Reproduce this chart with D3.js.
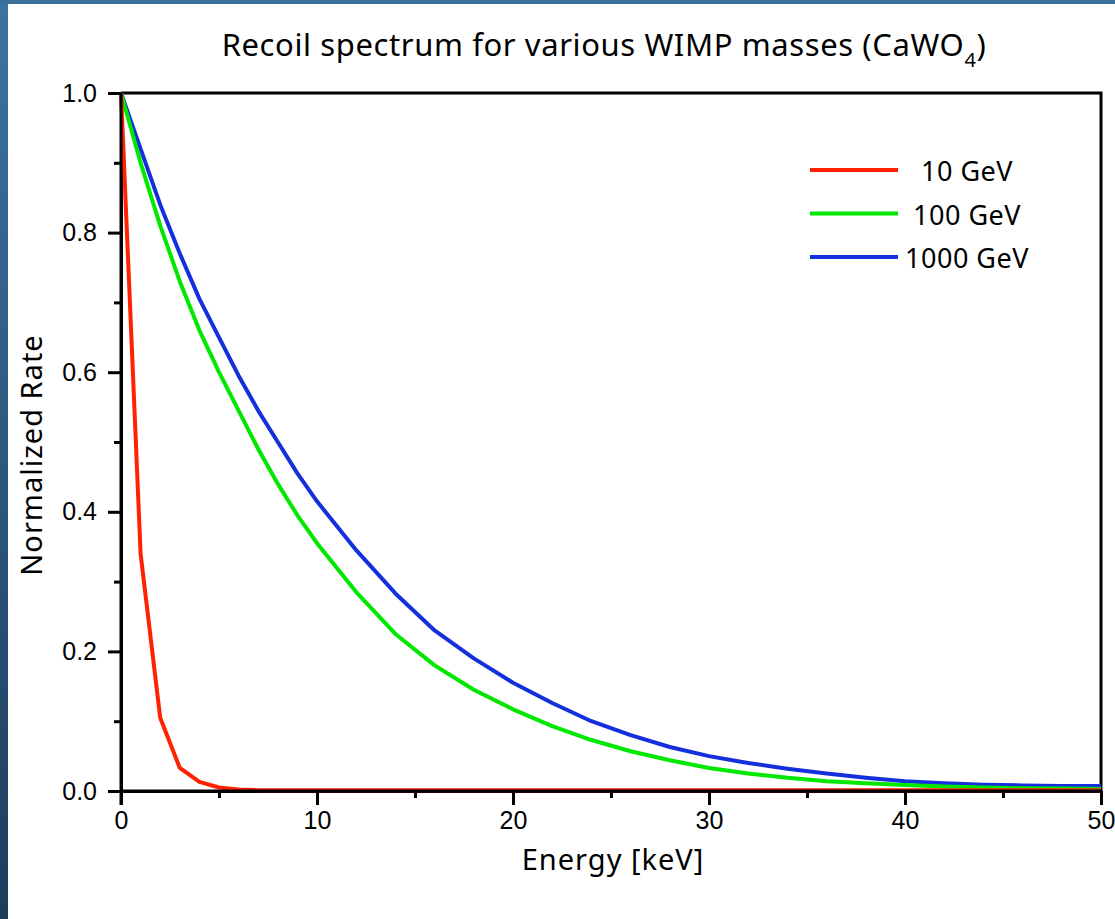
<!DOCTYPE html>
<html>
<head>
<meta charset="utf-8">
<script src="https://cdn.jsdelivr.net/npm/d3@7"></script>
<style>
  body { margin: 0; background: #fff; }
  svg { display: block; }
  .hand { font-family: "Comic Sans MS", "Noto Sans", sans-serif; fill: #000; }
</style>
</head>
<body>
<svg id="chart" width="1115" height="919"></svg>
<script>
// energy grid [keV] and normalized rates
var energy_low = [0, 1, 2, 3, 4, 5, 6, 7, 8, 10, 15, 20, 25, 30, 35, 40, 45, 50];
var rate_10 = [1.0, 0.34, 0.105, 0.033, 0.013, 0.005, 0.002, 0.0012, 0.001, 0.001, 0.001, 0.001, 0.001, 0.001, 0.001, 0.001, 0.001, 0.001];

var energy = [0, 1, 2, 3, 4, 5, 6, 7, 8, 9, 10, 12, 14, 16, 18, 20, 22, 24, 26, 28, 30, 32, 34, 36, 38, 40, 42, 44, 46, 48, 50];
var rate_100 = [1.0, 0.90, 0.81, 0.73, 0.66, 0.60, 0.545, 0.49, 0.44, 0.395, 0.355, 0.285, 0.225, 0.18, 0.145, 0.117, 0.093, 0.073, 0.057, 0.044, 0.033, 0.025, 0.019, 0.014, 0.011, 0.0085, 0.0065, 0.005, 0.004, 0.0035, 0.003];
var rate_1000 = [1.0, 0.92, 0.84, 0.77, 0.705, 0.65, 0.595, 0.545, 0.50, 0.455, 0.415, 0.345, 0.283, 0.23, 0.19, 0.155, 0.126, 0.10, 0.08, 0.063, 0.05, 0.04, 0.032, 0.025, 0.019, 0.014, 0.011, 0.009, 0.008, 0.007, 0.007];

var mass_labels = ["10 GeV", "100 GeV", "1000 GeV"];
var colors = ["#ff2200", "#00e800", "#1430dc"];

var x_major = [0, 10, 20, 30, 40, 50];
var x_minor = [5, 15, 25, 35, 45];
var y_major = [0.0, 0.2, 0.4, 0.6, 0.8, 1.0];
var y_minor = [0.1, 0.3, 0.5, 0.7, 0.9];

var series = [
  {label: mass_labels[0], color: colors[0], data: d3.zip(energy_low, rate_10)},
  {label: mass_labels[1], color: colors[1], data: d3.zip(energy, rate_100)},
  {label: mass_labels[2], color: colors[2], data: d3.zip(energy, rate_1000)}
];

var svg = d3.select('#chart');
var W = 1115, H = 919;
var plotLeft = 121, plotRight = 1101, plotTop = 93, plotBottom = 791;

// blue slide frame on the left and top
var grad = svg.append('defs').append('linearGradient')
    .attr('id', 'edge').attr('x1', 0).attr('y1', 0).attr('x2', 0).attr('y2', 1);
grad.append('stop').attr('offset', '0%').attr('stop-color', '#3d73a1');
grad.append('stop').attr('offset', '100%').attr('stop-color', '#1d3d5c');
svg.append('rect').attr('x', 0).attr('y', 0).attr('width', 8).attr('height', H).attr('fill', 'url(#edge)');
svg.append('rect').attr('x', 0).attr('y', 0).attr('width', W).attr('height', 4).attr('fill', '#3b6f9c');

var x = d3.scaleLinear().domain([0, 50]).range([plotLeft, plotRight]);
var y = d3.scaleLinear().domain([0, 1]).range([plotBottom, plotTop]);

var line = d3.line()
    .x(function(d) { return x(d[0]); })
    .y(function(d) { return y(d[1]); });

// frame (top and right)
svg.append('path')
    .attr('d', 'M' + plotLeft + ',' + plotTop + 'H' + plotRight + 'V' + plotBottom)
    .attr('fill', 'none').attr('stroke', '#000').attr('stroke-width', 3);

function styleAxis(g) {
  g.selectAll('.domain').attr('stroke', '#000').attr('stroke-width', 3);
  g.selectAll('.tick line').attr('stroke', '#000').attr('stroke-width', 3);
  g.selectAll('.tick text')
      .style('font-family', '"Liberation Sans Narrow", "Liberation Sans", Arial, sans-serif')
      .style('font-size', '25px')
      .attr('fill', '#000');
}

svg.append('g').attr('transform', 'translate(0,' + plotBottom + ')')
    .call(d3.axisBottom(x).tickValues(x_minor).tickSize(7).tickSizeOuter(0).tickFormat(''))
    .call(styleAxis);
svg.append('g').attr('transform', 'translate(' + plotLeft + ',0)')
    .call(d3.axisLeft(y).tickValues(y_minor).tickSize(7).tickSizeOuter(0).tickFormat(''))
    .call(styleAxis);

// curves
svg.append('g').selectAll('path').data(series.slice().reverse()).enter().append('path')
    .attr('d', function(s) { return line(s.data); })
    .attr('fill', 'none')
    .attr('stroke', function(s) { return s.color; })
    .attr('stroke-width', 4)
    .attr('stroke-linejoin', 'round');

var xAxis = svg.append('g').attr('transform', 'translate(0,' + plotBottom + ')')
    .call(d3.axisBottom(x).tickValues(x_major).tickSize(14).tickSizeOuter(0).tickPadding(6).tickFormat(d3.format('d')))
    .call(styleAxis);
xAxis.select('.domain').remove();

var yAxis = svg.append('g').attr('transform', 'translate(' + plotLeft + ',0)')
    .call(d3.axisLeft(y).tickValues(y_major).tickSize(13).tickSizeOuter(0).tickPadding(11).tickFormat(d3.format('.1f')))
    .call(styleAxis);
yAxis.select('.domain').remove();

// axis lines on top
svg.append('line').attr('x1', plotLeft).attr('x2', plotRight).attr('y1', plotBottom).attr('y2', plotBottom)
    .attr('stroke', '#000').attr('stroke-width', 3);
svg.append('line').attr('x1', plotLeft).attr('x2', plotLeft).attr('y1', plotTop).attr('y2', plotBottom + 14)
    .attr('stroke', '#000').attr('stroke-width', 3);

// title
var title = svg.append('text').attr('class', 'hand')
    .attr('x', 604).attr('y', 56)
    .attr('text-anchor', 'middle').style('font-size', '31px').style('letter-spacing', '0.6px');
title.append('tspan').text('Recoil spectrum for various WIMP masses (CaWO');
title.append('tspan').attr('dy', 11).style('font-size', '20px').text('4');
title.append('tspan').attr('dy', -11).text(')');

// axis titles
svg.append('text').attr('class', 'hand')
    .attr('x', 613).attr('y', 870)
    .attr('text-anchor', 'middle').style('font-size', '29px').style('letter-spacing', '1px')
    .text('Energy [keV]');
svg.append('text').attr('class', 'hand')
    .attr('transform', 'translate(42,455) rotate(-90)')
    .attr('text-anchor', 'middle').style('font-size', '29px').style('letter-spacing', '1px')
    .text('Normalized Rate');

// legend
var legend = svg.append('g').selectAll('g').data(series).enter().append('g')
    .attr('transform', function(s, i) { return 'translate(0,' + (170 + i * 43.5) + ')'; });
legend.append('line')
    .attr('x1', 810).attr('x2', 898).attr('y1', 0).attr('y2', 0)
    .attr('stroke', function(s) { return s.color; })
    .attr('stroke-width', 4);
legend.append('text').attr('class', 'hand')
    .attr('x', 967).attr('y', 11)
    .attr('text-anchor', 'middle').style('font-size', '27px').style('letter-spacing', '0.5px')
    .text(function(s) { return s.label; });
</script>
</body>
</html>
